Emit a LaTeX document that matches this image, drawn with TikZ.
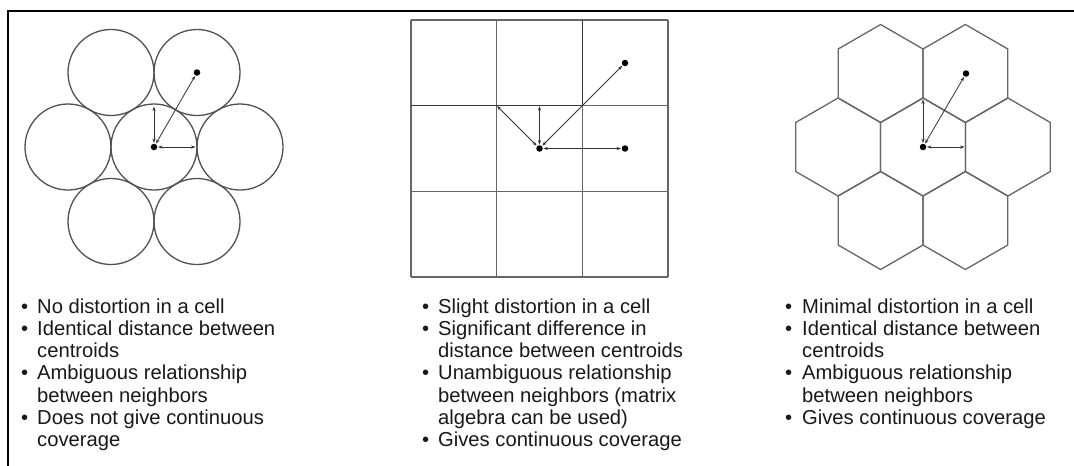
\documentclass[tikz,border=0pt]{standalone}
\usepackage{fontspec}
\setmainfont{Liberation Sans}
\usepackage{array}
\usetikzlibrary{arrows.meta}
\begin{document}
\begin{tikzpicture}[x=1pt,y=-1pt,
  frame/.style={line width=2.6pt,black},
  cellline/.style={line width=1.3pt,black!60},
  darkline/.style={line width=1.4pt,black!78},
  dot/.style={circle,fill=black,inner sep=0pt,minimum size=6.5pt},
  arr/.style={line width=0.8pt,black!80,{Stealth[length=4.5pt,width=3.2pt]}-{Stealth[length=4.5pt,width=3.2pt]},shorten <=0.5pt,shorten >=0.5pt},
  txt/.style={anchor=base west,inner sep=0pt,font=\fontsize{20.2pt}{22.2pt}\selectfont,text=black!90}
]
\useasboundingbox (0,0) rectangle (1074,466);
\fill[white] (0,0) rectangle (1074,466);
% frame
\draw[frame] (8,467) -- (8,11) -- (1075,11);

% ---- panel 1: circles ----
\foreach \cx/\cy in {154/147, 68/147, 240/147, 111/72.5, 197/72.5, 111/221.5, 197/221.5}
  \draw[cellline,black!68] (\cx,\cy) circle (43);
\node[dot] (c1) at (154,147) {};
\node[dot] (n1) at (197,72.5) {};
\coordinate (u1) at (154,106);
\coordinate (r1) at (196,147);
\draw[arr] (c1) -- (n1);
\draw[arr] (c1) -- (u1);
\draw[arr] (c1) -- (r1);

% ---- panel 2: squares ----
\foreach \i in {0,1,2,3} {
  \draw[cellline] ({411+85.67*\i},20) -- ({411+85.67*\i},277);
  \draw[cellline] (411,{20+85.67*\i}) -- (668,{20+85.67*\i});
}
\draw[darkline] (411,105.67) -- (582.33,105.67) -- (582.33,20);
\node[dot] (c2) at (539.5,148.5) {};
\node[dot] (n2) at (625,63) {};
\node[dot] (e2) at (625,148.5) {};
\coordinate (k2) at (496.67,105.67);
\coordinate (u2) at (539.5,105.67);
\draw[arr] (c2) -- (k2);
\draw[arr] (c2) -- (u2);
\draw[arr] (c2) -- (n2);
\draw[arr] (c2) -- (e2);

% ---- panel 3: hexagons ----
\foreach \cx/\cy in {923/147, 838.1/147, 1007.9/147, 880.6/73.5, 965.4/73.5, 880.6/220.5, 965.4/220.5}
  \draw[cellline,line join=round] (\cx,\cy) ++(30:49) -- ++(150:49) -- ++(210:49) -- ++(270:49) -- ++(330:49) -- ++(30:49) -- cycle;
\node[dot] (c3) at (923,147) {};
\node[dot] (n3) at (966,73.5) {};
\coordinate (u3) at (923,99);
\coordinate (r3) at (965,147);
\draw[arr] (c3) -- (n3);
\draw[arr] (c3) -- (u3);
\draw[arr] (c3) -- (r3);

% ---- texts ----
\node[txt] (t1) at (21,313.3) {\begin{tabular}[t]{@{}p{16pt}@{}l@{}}
\textbullet & No distortion in a cell\\
\textbullet & Identical distance between\\
 & centroids\\
\textbullet & Ambiguous relationship\\
 & between neighbors\\
\textbullet & Does not give continuous\\
 & coverage
\end{tabular}};
\node[txt] (t2) at (422,313.3) {\begin{tabular}[t]{@{}p{16pt}@{}l@{}}
\textbullet & Slight distortion in a cell\\
\textbullet & Significant difference in\\
 & distance between centroids\\
\textbullet & Unambiguous relationship\\
 & between neighbors (matrix\\
 & algebra can be used)\\
\textbullet & Gives continuous coverage
\end{tabular}};
\node[txt] (t3) at (785,313.3) {\begin{tabular}[t]{@{}p{17pt}@{}l@{}}
\textbullet & Minimal distortion in a cell\\
\textbullet & Identical distance between\\
 & centroids\\
\textbullet & Ambiguous relationship\\
 & between neighbors\\
\textbullet & Gives continuous coverage
\end{tabular}};
\end{tikzpicture}
\end{document}
